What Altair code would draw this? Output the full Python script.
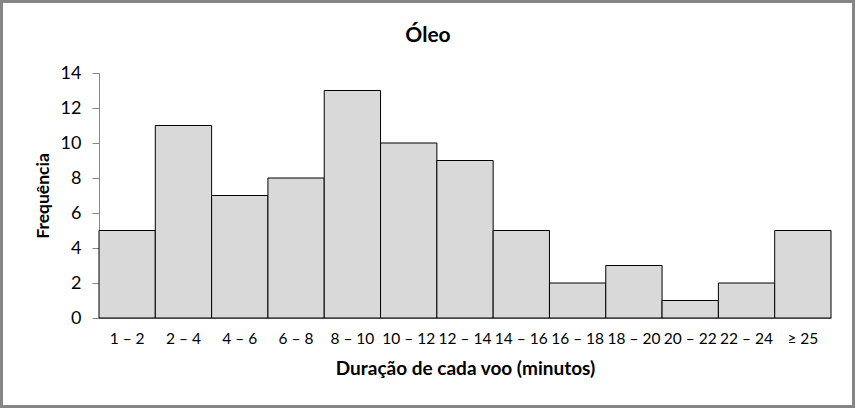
import altair as alt
import pandas as pd

categories = ["1 – 2", "2 – 4", "4 – 6", "6 – 8", "8 – 10", "10 – 12", "12 – 14",
              "14 – 16", "16 – 18", "18 – 20", "20 – 22", "22 – 24", "≥ 25"]
values = [5, 11, 7, 8, 13, 10, 9, 5, 2, 3, 1, 2, 5]
title_text = ["Óleo"]

df = pd.DataFrame({"cat": categories, "freq": values})
tdf = pd.DataFrame({"t": title_text})

FONT = "Lato"
W, H = 732, 245
PL, PT = 99, 73

bars = alt.Chart(df).mark_bar(color="#d9d9d9", stroke="black", strokeWidth=1).encode(
    x=alt.X("cat:N", sort=categories,
            scale=alt.Scale(paddingInner=0, paddingOuter=0),
            axis=alt.Axis(title="Duração de cada voo (minutos)", labelAngle=0,
                          ticks=False, domainColor="#868686", labelPadding=13,
                          labelFontSize=15.5, labelColor="black", titleFontSize=19,
                          titleFontWeight="bold", titlePadding=13, titleColor="black",
                          labelFont=FONT, titleFont=FONT)),
    y=alt.Y("freq:Q", scale=alt.Scale(domain=[0, 14]),
            axis=alt.Axis(title="Frequência", values=[0, 2, 4, 6, 8, 10, 12, 14],
                          grid=False, domainColor="#868686", tickColor="#868686",
                          tickSize=7, labelFontSize=18, labelColor="black", labelPadding=11,
                          titleFontSize=17.5, titleFontWeight="bold", titleColor="black",
                          titlePadding=8, labelFont=FONT, titleFont=FONT)),
)

title = alt.Chart(tdf).mark_text(font=FONT, fontSize=21, fontWeight="bold",
                                 color="black", baseline="alphabetic", align="center").encode(
    text="t:N", x=alt.value(428 - PL), y=alt.value(42 - PT),
)

border = alt.Chart(df).mark_rect(fill=None, stroke="#868686", strokeWidth=3).encode(
    x=alt.value(-PL + 1.5), x2=alt.value(855 - PL - 1.5),
    y=alt.value(-PT + 1.5), y2=alt.value(408 - PT - 1.5),
)

chart = alt.layer(bars, title, border).properties(
    width=W, height=H,
    padding={"left": PL, "top": PT, "right": 855 - PL - W, "bottom": 408 - PT - H},
    autosize=alt.AutoSizeParams(type="none"),
).configure_view(stroke=None)

chart.save("out.html", embed_options={"renderer": "svg", "actions": False})
